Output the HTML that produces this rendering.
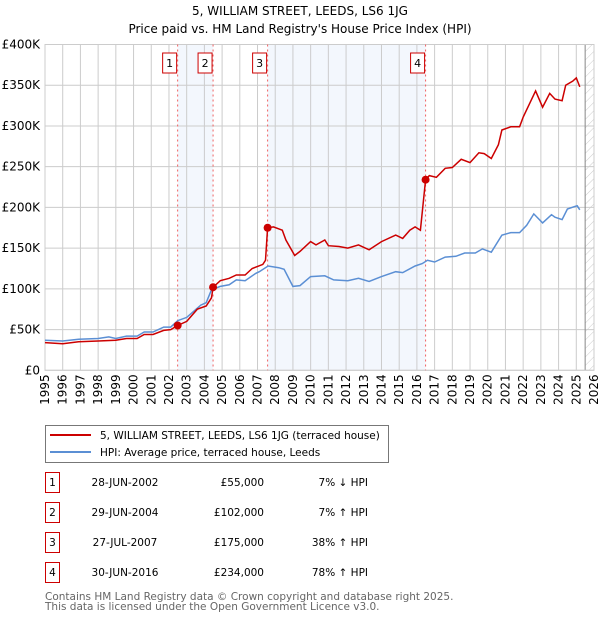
<!DOCTYPE html>
<html><head><meta charset="utf-8"><style>
body{margin:0;background:#fff}
svg text{font-family:"DejaVu Sans","Liberation Sans",sans-serif}
</style></head><body>
<svg id="c" width="600" height="620" viewBox="0 0 600 620" xmlns="http://www.w3.org/2000/svg">
<defs><pattern id="hatch" width="6" height="6" patternUnits="userSpaceOnUse" patternTransform="rotate(45)"><line x1="0" y1="0" x2="0" y2="6" stroke="#ccc" stroke-width="1"/></pattern></defs>
<text x="300" y="15" text-anchor="middle" font-size="12">5, WILLIAM STREET, LEEDS, LS6 1JG</text>
<text x="300" y="33" text-anchor="middle" font-size="12">Price paid vs. HM Land Registry's House Price Index (HPI)</text>
<g id="shade"></g><g id="grid"></g><g id="axes"></g><g id="vlines"></g><g id="series"></g><g id="marks"></g>
<g>
<rect x="45.5" y="425.5" width="343" height="37" fill="#fff" stroke="#777"/>
<line x1="50" y1="435" x2="91" y2="435" stroke="#cc0000" stroke-width="2"/>
<text x="100" y="439" font-size="10.5">5, WILLIAM STREET, LEEDS, LS6 1JG (terraced house)</text>
<line x1="50" y1="452" x2="91" y2="452" stroke="#5b8fd4" stroke-width="2"/>
<text x="100" y="456" font-size="10.5">HPI: Average price, terraced house, Leeds</text>
</g>
<g id="table" font-size="10.5"></g>
<text x="45" y="600" font-size="10.5" fill="#666">Contains HM Land Registry data © Crown copyright and database right 2025.</text>
<text x="45" y="610" font-size="10.5" fill="#666">This data is licensed under the Open Government Licence v3.0.</text>
</svg>
<script>
const hpiYears=[1995,1996,1996.9,1998,1998.6,1999,1999.6,2000.2,2000.6,2001.1,2001.7,2002.1,2002.5,2003,2003.8,2004.1,2004.4,2004.9,2005.4,2005.8,2006.3,2006.9,2007.1,2007.6,2008.2,2008.5,2009,2009.4,2010,2010.8,2011.3,2012.1,2012.7,2013.3,2014,2014.8,2015.2,2015.9,2016.3,2016.6,2017,2017.6,2018.2,2018.7,2019.3,2019.7,2020.2,2020.8,2021.3,2021.8,2022.2,2022.6,2023.1,2023.6,2023.8,2024.2,2024.5,2024.9,2025.05,2025.2];
const hpiValues=[37,36,38,39,41,39,42,42,47,47,53,53,61,65,80,83,99,103,105,111,110,119,121,128,126,124,103,104,115,116,111,110,113,109,115,121,120,128,131,135,133,139,140,144,144,149,145,166,169,169,178,192,181,191,188,185,198,201,202,197];
const priceYears=[1995,1996,1996.9,1998,1999,1999.6,2000.2,2000.6,2001.1,2001.7,2002.1,2002.49,2003,2003.6,2004.1,2004.4,2004.49,2004.9,2005.4,2005.8,2006.3,2006.7,2007.3,2007.45,2007.57,2007.9,2008.4,2008.6,2009.1,2009.4,2010,2010.3,2010.8,2011,2011.6,2012.1,2012.7,2013.3,2014,2014.8,2015.2,2015.6,2015.9,2016.2,2016.49,2016.7,2017.1,2017.6,2018,2018.5,2019,2019.5,2019.8,2020.2,2020.6,2020.8,2021.3,2021.8,2022,2022.4,2022.7,2023.1,2023.5,2023.8,2024.2,2024.4,2024.8,2025,2025.2];
const priceValues=[34,32.5,35,36,37,39,39,44,44,49,50,55,60,75,79,89,102,110,113,117,117,125,130,135,175,176,172,160,141,146,158,154,160,153,152,150,154,148,158,166,162,172,176,172,234,239,237,248,249,259,255,267,266,260,277,295,299,299,311,329,343,323,340,333,331,350,355,359,348];
const saleDates=[2002.49,2004.49,2007.57,2016.49];
const salePrices=[55,102,175,234];
const saleLabels=["1","2","3","4"];
const saleDateText=["28-JUN-2002","29-JUN-2004","27-JUL-2007","30-JUN-2016"];
const salePriceText=["£55,000","£102,000","£175,000","£234,000"];
const saleHpiText=["7% ↓ HPI","7% ↑ HPI","38% ↑ HPI","78% ↑ HPI"];
const yTicks=[0,50,100,150,200,250,300,350,400];
const yTickLabels=["£0","£50K","£100K","£150K","£200K","£250K","£300K","£350K","£400K"];
const xTicks=[1995,1996,1997,1998,1999,2000,2001,2002,2003,2004,2005,2006,2007,2008,2009,2010,2011,2012,2013,2014,2015,2016,2017,2018,2019,2020,2021,2022,2023,2024,2025,2026];

const L=45,R=594,T=44.5,B=370.3,X0=1995,X1=2026,YMAX=400;
const xs=v=>L+(v-X0)/(X1-X0)*(R-L);
const ys=v=>B-v/YMAX*(B-T);
const NS="http://www.w3.org/2000/svg";
function mk(p,tag,a){const e=document.createElementNS(NS,tag);for(const k in a)e.setAttribute(k,a[k]);p.appendChild(e);return e;}
const g=id=>document.getElementById(id);

let s1=mk(g('shade'),'rect',{x:xs(saleDates[0]),y:T,width:xs(saleDates[1])-xs(saleDates[0]),height:B-T,fill:'#eef3fc',opacity:0.7});


let s2=mk(g('shade'),'rect',{x:xs(saleDates[2]),y:T,width:xs(saleDates[3])-xs(saleDates[2]),height:B-T,fill:'#eef3fc',opacity:0.7});


let hz=mk(g('shade'),'rect',{x:xs(2025.5),y:T,width:R-xs(2025.5),height:B-T,fill:'url(#hatch)'});



yTicks.forEach((t,i)=>{
  let l=mk(g('grid'),'line',{x1:L,x2:R,y1:ys(t),y2:ys(t),stroke:'#ccc','stroke-width':1});
  
  
  let tx=mk(g('axes'),'text',{x:L-5,y:ys(t)+4,'text-anchor':'end','font-size':12});
  tx.textContent=yTickLabels[i];
  
  
});
xTicks.forEach(t=>{
  let l=mk(g('grid'),'line',{x1:xs(t),x2:xs(t),y1:T,y2:B,stroke:'#ccc','stroke-width':1});
  
  
  let tx=mk(g('axes'),'text',{x:0,y:0,'text-anchor':'end','font-size':12,transform:`translate(${xs(t)+4},${B+4}) rotate(-90)`});
  tx.textContent=t;
  
  
});
let dl=mk(g('grid'),'line',{x1:xs(2025.5),x2:xs(2025.5),y1:T,y2:B,stroke:'#888','stroke-width':1});



saleDates.forEach((d,i)=>{
  let l=mk(g('vlines'),'line',{x1:xs(d),x2:xs(d),y1:T,y2:B,stroke:'#f06060','stroke-width':1,'stroke-dasharray':'2,3'});
  
  
  let bx=mk(g('marks'),'rect',{x:xs(d)-15,y:53,width:14,height:20,fill:'#fff',stroke:'#cc0000','stroke-width':1});
  
  
  let t=mk(g('marks'),'text',{x:xs(d)-8,y:67,'text-anchor':'middle','font-size':11});
  t.textContent=saleLabels[i];
  
  
  let c=mk(g('marks'),'circle',{cx:xs(d),cy:ys(salePrices[i]),r:4,fill:'#cc0000'});
  
  
});
function path(xa,ya){return xa.map((x,i)=>(i?'L':'M')+xs(x).toFixed(1)+','+ys(ya[i]).toFixed(1)).join(' ');}
let hp=mk(g('series'),'path',{d:path(hpiYears,hpiValues),fill:'none',stroke:'#5b8fd4','stroke-width':1.5});


let pp=mk(g('series'),'path',{d:path(priceYears,priceValues),fill:'none',stroke:'#cc0000','stroke-width':1.5});


let ax=mk(g('axes'),'rect',{x:L,y:T,width:R-L,height:B-T,fill:'none',stroke:'#ccc'});



const rowY=[483,513,543,573];
saleLabels.forEach((lab,i)=>{
  const tb=g('table'),y=rowY[i];
  let b=mk(tb,'rect',{x:45.5,y:y-10.5,width:14,height:20,fill:'#fff',stroke:'#cc0000'});
  
  
  let t=mk(tb,'text',{x:52.5,y:y+3,'text-anchor':'middle'});t.textContent=lab;
  
  
  let d=mk(tb,'text',{x:125,y:y+3,'text-anchor':'middle'});d.textContent=saleDateText[i];
  
  
  let p=mk(tb,'text',{x:264,y:y+3,'text-anchor':'end'});p.textContent=salePriceText[i];
  
  
  let h=mk(tb,'text',{x:368,y:y+3,'text-anchor':'end'});h.textContent=saleHpiText[i];
  
  
});
</script>
</body></html>
